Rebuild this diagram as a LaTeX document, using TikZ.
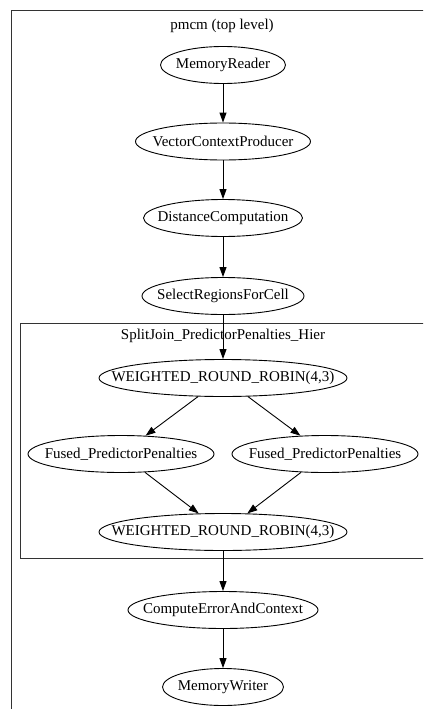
\documentclass[tikz,border=0pt]{standalone}
\usepackage{fontspec}
\setmainfont{Liberation Serif}
\usetikzlibrary{shapes.geometric,arrows.meta}
\tikzset{
  caption/.style={font=\fontsize{15}{17}\selectfont, inner sep=0pt},
  stage/.style={draw, ellipse, line width=0.9pt, inner sep=0pt,
    minimum height=37pt},
  flow/.style={draw, line width=0.9pt, -{Triangle[length=10pt,width=7pt]}},
  cluster/.style={draw, line width=0.9pt, color=black!80}
}
\begin{document}
\begin{tikzpicture}[x=1pt, y=-1pt]
  \useasboundingbox (0,0) rectangle (423,709);
  \fill[white] (0,0) rectangle (423,709);
  \clip (0,0) rectangle (423,709);

  % outer cluster and its title
  \draw[cluster] (11,10) rectangle (440,730);
  \node[caption] (toptitle) at (222,26) {pmcm (top level)};

  % split-join cluster and its title
  \draw[cluster] (20,323) rectangle (440,558);
  \node[caption] (sjtitle) at (223,336) {SplitJoin\_PredictorPenalties\_Hier};

  % stages (ellipse sized by hand, text set as a centred label)
  \node[stage, minimum width=125pt, label={[caption]center:MemoryReader}] (reader) at (223,65) {};
  \node[stage, minimum width=175pt, label={[caption]center:VectorContextProducer}] (vcp) at (223,141.5) {};
  \node[stage, minimum width=159pt, label={[caption]center:DistanceComputation}] (dist) at (223,218) {};
  \node[stage, minimum width=162pt, label={[caption]center:SelectRegionsForCell}] (sel) at (223,296) {};
  \node[stage, minimum width=248pt, label={[caption]center:WEIGHTED\_ROUND\_ROBIN(4,3)}] (split) at (223,378) {};
  \node[stage, minimum width=186pt, label={[caption]center:Fused\_PredictorPenalties}] (fusedL) at (121,454) {};
  \node[stage, minimum width=186pt, label={[caption]center:Fused\_PredictorPenalties}] (fusedR) at (325,454) {};
  \node[stage, minimum width=248pt, label={[caption]center:WEIGHTED\_ROUND\_ROBIN(4,3)}] (join) at (223,532) {};
  \node[stage, minimum width=190pt, label={[caption]center:ComputeErrorAndContext}] (err) at (223,610) {};
  \node[stage, minimum width=121pt, label={[caption]center:MemoryWriter}] (writer) at (223,687) {};

  % connectors
  \draw[flow] (reader) -- (vcp);
  \draw[flow] (vcp) -- (dist);
  \draw[flow] (dist) -- (sel);
  \draw[flow] (sel) -- (split);
  \draw[flow] (split) -- (fusedL);
  \draw[flow] (split) -- (fusedR);
  \draw[flow] (fusedL) -- (join);
  \draw[flow] (fusedR) -- (join);
  \draw[flow] (join) -- (err);
  \draw[flow] (err) -- (writer);
\end{tikzpicture}
\end{document}
